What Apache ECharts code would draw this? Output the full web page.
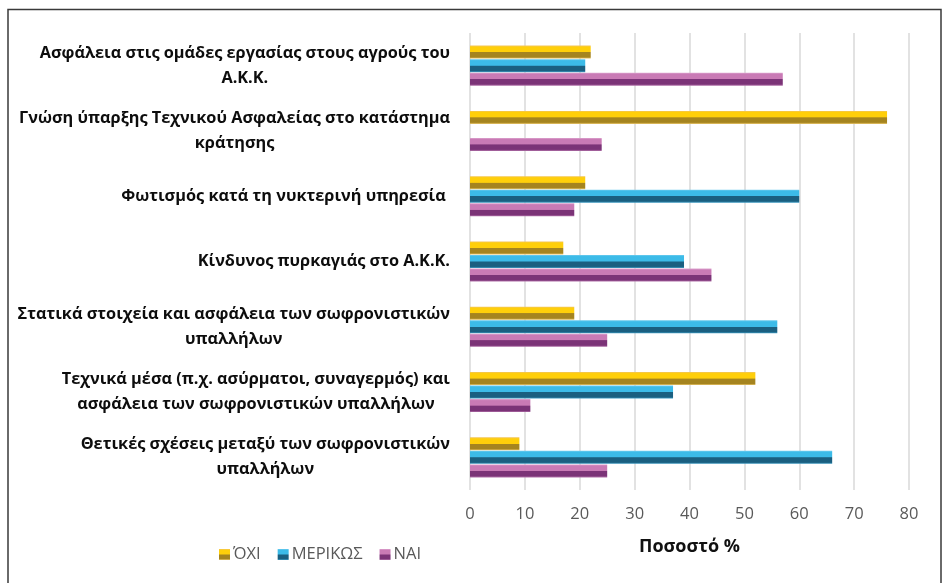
<!DOCTYPE html>
<html>
<head>
<meta charset="utf-8">
<script src="https://cdn.jsdelivr.net/npm/echarts@6/dist/echarts.min.js"></script>
<style>
html,body{margin:0;padding:0;background:#fff;}
#c{width:943px;height:583px;}
</style>
</head>
<body>
<div id="c"></div>
<script>
const categories = [
  'Ασφάλεια στις ομάδες εργασίας στους αγρούς του\nΑ.Κ.Κ.',
  'Γνώση ύπαρξης Τεχνικού Ασφαλείας στο κατάστημα\nκράτησης',
  'Φωτισμός κατά τη νυκτερινή υπηρεσία ',
  'Κίνδυνος πυρκαγιάς στο Α.Κ.Κ.',
  'Στατικά στοιχεία και ασφάλεια των σωφρονιστικών\nυπαλλήλων',
  'Τεχνικά μέσα (π.χ. ασύρματοι, συναγερμός) και\nασφάλεια των σωφρονιστικών υπαλλήλων',
  'Θετικές σχέσεις μεταξύ των σωφρονιστικών\nυπαλλήλων'
];
const seriesNames = ['ΌΧΙ', 'ΜΕΡΙΚΩΣ', 'ΝΑΙ'];
const oxi = [22, 76, 21, 17, 19, 52, 9];
const merikos = [21, 0, 60, 39, 56, 37, 66];
const nai = [57, 24, 19, 44, 25, 11, 25];
const xTicks = [0, 10, 20, 30, 40, 50, 60, 70, 80];

const FONT = 'Open Sans';
function bevel(edge, light, dark, darkEdge) {
  return {
    type: 'linear', x: 0, y: 0, x2: 0, y2: 1,
    colorStops: [
      {offset: 0, color: edge},
      {offset: 0.12, color: light},
      {offset: 0.48, color: light},
      {offset: 0.52, color: dark},
      {offset: 0.88, color: dark},
      {offset: 1, color: darkEdge}
    ]
  };
}
const styles = [
  bevel('#F2C55A', '#FFCF0A', '#A5841F', '#E9C56A'),
  bevel('#6CCBEE', '#3CBBE8', '#1A5F80', '#3E9CC4'),
  bevel('#DDA5CF', '#C97AB5', '#7B3377', '#B070A8')
];
const dataSets = [oxi, merikos, nai];

const chart = echarts.init(document.getElementById('c'), null, {renderer: 'canvas'});
chart.setOption({
  animation: false,
  backgroundColor: '#fff',
  textStyle: {fontFamily: FONT},
  graphic: [{
    type: 'rect', silent: true,
    shape: {x: 8, y: 9.5, width: 933, height: 620},
    style: {fill: 'none', stroke: '#3a3a3a', lineWidth: 1.5}
  }],
  grid: {left: 470, right: 34, top: 33, bottom: 93, containLabel: false},
  legend: {
    data: seriesNames,
    left: 214, top: 541,
    icon: 'rect', itemWidth: 11, itemHeight: 11, itemGap: 17,
    textStyle: {fontFamily: FONT, fontSize: 16.5, color: '#595959', padding: [0, 0, 0, -2]}
  },
  xAxis: {
    type: 'value', min: 0, max: 80, interval: 10,
    name: 'Ποσοστό %', nameLocation: 'middle', nameGap: 48,
    nameTextStyle: {fontFamily: FONT, fontSize: 18, fontWeight: 'bold', color: '#111'},
    axisLine: {show: false}, axisTick: {show: false},
    axisLabel: {
      fontFamily: FONT, fontSize: 16.5, color: '#595959', margin: 16,
      formatter: v => xTicks.includes(v) ? String(v) : ''
    },
    splitLine: {show: true, lineStyle: {color: '#d9d9d9', width: 1.5}}
  },
  yAxis: {
    type: 'category', data: categories, inverse: true,
    axisLine: {show: false}, axisTick: {show: false},
    axisLabel: {
      margin: 20, align: 'right',
      formatter: v => v.split('\n').map(l => '{c|' + l + '}').join('\n'),
      rich: {c: {align: 'center', fontFamily: FONT, fontSize: 16.3, fontWeight: 'bold', color: '#0d0d0d', lineHeight: 25}}
    }
  },
  series: seriesNames.map((n, i) => ({
    name: n, type: 'bar', data: dataSets[i],
    barWidth: 13, barGap: '4%',
    itemStyle: {color: styles[i]}
  }))
});
</script>
</body>
</html>
